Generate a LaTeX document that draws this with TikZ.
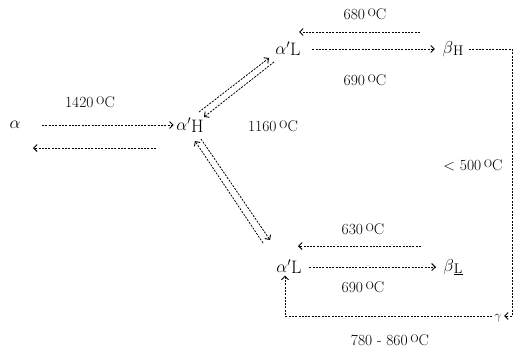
\documentclass[tikz,border=0pt]{standalone}
\usetikzlibrary{arrows.meta}
\newcommand{\dgc}{\,\raisebox{.45ex}{\fontsize{11}{12}\selectfont O}C}
\begin{document}
\begin{tikzpicture}[x=1pt,y=-1pt,
  lbl/.style={font=\fontsize{15.5}{17}\selectfont, inner sep=1pt},
  sp/.style={font=\fontsize{18}{20}\selectfont, inner sep=1.5pt},
  dl/.style={line width=0.8pt, dash pattern=on 2pt off 1.3pt},
  arr/.style={dl, -{Straight Barb[length=3.5pt,width=7pt,line width=0.9pt]}}]
\useasboundingbox (0,0) rectangle (516,351);

% states
\node[sp] (a)   at (15,125)  {$\alpha$};
\node[sp] (aH)  at (190,125) {$\alpha'$\raisebox{-2pt}{H}};
\node[sp] (aL1) at (288,49)  {$\alpha'$\raisebox{-1pt}{L}};
\node[sp] (bH)  at (453,49)  {$\beta$\raisebox{-2pt}{\fontsize{14}{16}\selectfont H}};
\node[sp] (aL2) at (289,267) {$\alpha'$\raisebox{-1pt}{L}};
\node[sp] (bL)  at (453,267) {$\beta$\raisebox{-2pt}{\fontsize{14}{16}\selectfont\underline{L}}};
\node[sp, font=\fontsize{12}{14}\selectfont] (g) at (498,318) {$\gamma$};

% labels
\node[lbl] (t1420) at (90,102)  {1420\dgc};
\node[lbl] (t1160) at (273,126) {1160\dgc};
\node[lbl] (t680)  at (365,14)  {680\dgc};
\node[lbl] (t690a) at (365,80)  {690\dgc};
\node[lbl] (t500)  at (473,165) {< 500\dgc};
\node[lbl] (t630)  at (363,229) {630\dgc};
\node[lbl] (t690b) at (363,287) {690\dgc};
\node[lbl] (t780)  at (390,340) {780 - 860\dgc};

% alpha <-> alpha'H
\draw[arr] ([xshift=20pt]a.east) -- ([xshift=-1pt]aH.west);
\coordinate (r1s) at (156,148);
\coordinate (r1e) at (33,148);
\draw[arr] (r1s) -- (r1e);

% upper row
\draw[arr] ([xshift=10pt]aL1.east) -- ([xshift=-6pt]bH.west);
\coordinate (r2s) at (420,32);
\coordinate (r2e) at (299,32);
\draw[arr] (r2s) -- (r2e);

% lower row
\draw[arr] ([xshift=6pt]aL2.east) -- ([xshift=-6pt]bL.west);
\coordinate (r3s) at (421,246);
\coordinate (r3e) at (298,246);
\draw[arr] (r3s) -- (r3e);

% diagonals alpha'H <-> alpha'L (upper)
\coordinate (u1s) at (199,112);
\coordinate (u1e) at (269,58);
\coordinate (u2s) at (274,62);
\coordinate (u2e) at (204,117);
\draw[arr] (u1s) -- (u1e);
\draw[arr] (u2s) -- (u2e);

% diagonals alpha'H <-> alpha'L (lower)
\coordinate (d1s) at (263,243);
\coordinate (d1e) at (195,141);
\coordinate (d2s) at (201,139);
\coordinate (d2e) at (270,240);
\draw[arr] (d1s) -- (d1e);
\draw[arr] (d2s) -- (d2e);

% beta_H -> gamma (< 500 C)
\coordinate (rc) at (512,316);
\draw[arr] ([xshift=4pt]bH.east) -- (bH.east -| rc) -- (rc) -- ([xshift=1pt]g.east |- rc);

% gamma -> alpha'L (780 - 860 C)
\coordinate (lc) at (285,316);
\draw[arr] ([xshift=-1pt]g.west |- lc) -- (lc) -- (lc |- aL2.south);
\end{tikzpicture}
\end{document}
